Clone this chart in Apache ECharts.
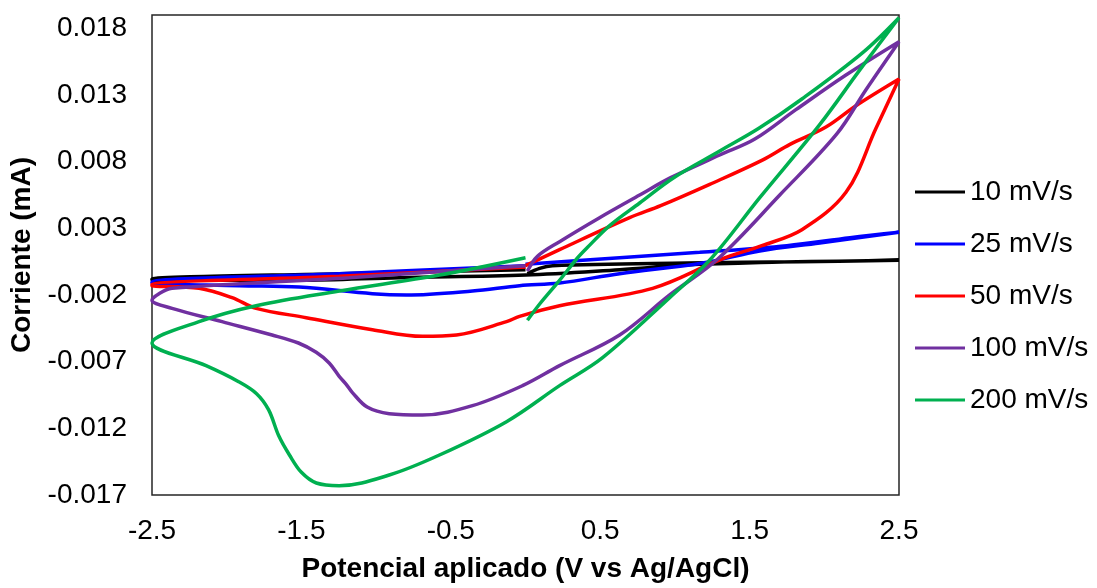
<!DOCTYPE html>
<html>
<head>
<meta charset="utf-8">
<script src="https://cdn.jsdelivr.net/npm/echarts@6/dist/echarts.min.js"></script>
<style>
  html, body { margin: 0; padding: 0; background: #fff; }
  #chart { width: 1097px; height: 588px; }
</style>
</head>
<body>
<div id="chart"></div>
<script>
// voltammogramas: potencial (V) y corriente (mA), en orden de barrido
var seriesNames = ['10 mV/s', '25 mV/s', '50 mV/s', '100 mV/s', '200 mV/s'];
var seriesColors = ['#000000', '#0000FF', '#FF0000', '#7030A0', '#00B050'];

var potential10 = [0.013, 0.094, 0.181, 1.079, 1.836, 2.5, 1.166, 0.63, 0.0, -0.845, -1.515, -2.5, -2.5, -1.247, 0.0];
var current10 = [-0.0004, 0.0, 0.0002, 0.0004, 0.0005, 0.0006, 0.0003, -0.0001, -0.0005, -0.0007, -0.0009, -0.0009, -0.0008, -0.0004, -0.0001];

var potential25 = [0.0, 0.63, 1.166, 1.749, 2.172, 2.5, 1.97, 1.568, 1.186, 0.63, 0.228, -0.04, -0.355, -0.798, -1.025, -1.515, -1.917, -2.5, -2.5, -1.247, 0.0];
var current25 = [0.0003, 0.0008, 0.0012, 0.0017, 0.0023, 0.0027, 0.0019, 0.0013, 0.0004, -0.0004, -0.0011, -0.0013, -0.0017, -0.002, -0.0019, -0.0014, -0.0013, -0.0011, -0.001, -0.0004, 0.0002];

var potential50 = [0.0, 0.228, 0.697, 0.905, 1.233, 1.582, 1.77, 2.011, 2.212, 2.5, 2.346, 2.145, 1.85, 1.582, 1.314, 0.851, 0.228, -0.04, -0.127, -0.462, -0.69, -1.025, -1.468, -1.803, -1.964, -2.185, -2.5, -2.5, -1.247, 0.0];
var current50 = [0.0002, 0.0014, 0.0038, 0.0047, 0.0063, 0.0081, 0.0093, 0.0106, 0.0122, 0.0142, 0.0105, 0.0057, 0.0029, 0.0017, 0.0007, -0.0015, -0.0028, -0.0036, -0.004, -0.005, -0.0051, -0.0046, -0.0037, -0.003, -0.0022, -0.0015, -0.0013, -0.0012, -0.0006, 0.0001];

var potential100 = [0.013, 0.08, 0.228, 0.496, 0.764, 0.972, 1.3, 1.535, 1.81, 2.145, 2.5, 2.279, 2.085, 1.702, 1.287, 0.965, 0.63, 0.228, -0.02, -0.355, -0.69, -0.912, -1.06, -1.16, -1.20, -1.247, -1.314, -1.401, -1.52, -1.696, -2.031, -2.366, -2.5, -2.453, -2.366, -1.18, 0.0];
var current100 = [-0.0002, 0.0009, 0.002, 0.0038, 0.0055, 0.0068, 0.0085, 0.0097, 0.0119, 0.0145, 0.017, 0.0134, 0.0101, 0.0055, 0.0007, -0.002, -0.005, -0.0073, -0.0088, -0.0103, -0.011, -0.0109, -0.0104, -0.0093, -0.0087, -0.0081, -0.0071, -0.0063, -0.0056, -0.005, -0.004, -0.003, -0.0024, -0.0019, -0.0015, -0.0007, 0.0002];

var potential200 = [0.013, 0.1, 0.228, 0.342, 0.409, 0.563, 0.764, 0.992, 1.3, 1.562, 1.85, 2.259, 2.5, 2.239, 1.964, 1.568, 1.24, 0.965, 0.516, 0.228, -0.127, -0.576, -0.912, -1.247, -1.40, -1.50, -1.58, -1.65, -1.72, -1.80, -1.92, -2.138, -2.5, -2.185, -1.803, -1.247, -0.576, 0.0];
var current200 = [-0.0039, -0.0026, -0.0009, 0.0007, 0.0015, 0.0032, 0.0049, 0.0068, 0.0088, 0.0105, 0.0127, 0.0162, 0.0188, 0.0149, 0.0107, 0.0053, 0.0007, -0.0022, -0.0067, -0.0088, -0.0115, -0.014, -0.0155, -0.0163, -0.0161, -0.0153, -0.014, -0.0126, -0.0106, -0.0094, -0.0085, -0.0073, -0.0056, -0.004, -0.0028, -0.0017, -0.0005, 0.0008];

var potentials = [potential10, potential25, potential50, potential100, potential200];
var currents = [current10, current25, current50, current100, current200];

function pairs(xs, ys) {
    var out = [];
    for (var i = 0; i < xs.length; i++) {
        out.push([xs[i], ys[i]]);
    }
    return out;
}

var font = 'Liberation Sans, Arial, sans-serif';
var chart = echarts.init(document.getElementById('chart'));

var series = [];
for (var k = 0; k < seriesNames.length; k++) {
    series.push({
        name: seriesNames[k],
        type: 'line',
        data: pairs(potentials[k], currents[k]),
        symbol: 'none',
        smooth: 0.35,
        lineStyle: { width: 3.5, color: seriesColors[k] },
        itemStyle: { color: seriesColors[k] },
        animation: false
    });
}

var option = {
    backgroundColor: '#ffffff',
    animation: false,
    grid: {
        left: 152, right: 198, top: 15, bottom: 91,
        show: true, borderColor: '#262626', borderWidth: 1.5, backgroundColor: 'transparent'
    },
    legend: {
        data: seriesNames,
        orient: 'vertical',
        left: 915,
        top: 178,
        itemWidth: 50,
        itemHeight: 3,
        itemGap: 24,
        icon: 'rect',
        padding: 0,
        textStyle: { fontFamily: font, fontSize: 28, color: '#000', padding: [0, 0, 0, 0] }
    },
    xAxis: {
        type: 'value',
        min: -2.5,
        max: 2.5,
        interval: 1,
        name: 'Potencial aplicado (V vs Ag/AgCl)',
        nameLocation: 'middle',
        nameGap: 60,
        nameTextStyle: { fontFamily: font, fontSize: 28, fontWeight: 'bold', color: '#000' },
        axisLine: { show: false, onZero: false },
        axisTick: { show: false },
        splitLine: { show: false },
        axisLabel: {
            margin: 22,
            fontFamily: font, fontSize: 28, color: '#000',
            formatter: function (v) { return v.toFixed(1); }
        }
    },
    yAxis: {
        type: 'value',
        min: -0.017,
        max: 0.019,
        interval: 0.005,
        name: 'Corriente (mA)',
        nameLocation: 'middle',
        nameGap: 111,
        nameTextStyle: { fontFamily: font, fontSize: 28, fontWeight: 'bold', color: '#000' },
        axisLine: { show: false, onZero: false },
        axisTick: { show: false },
        splitLine: { show: false },
        axisLabel: {
            margin: 25,
            showMaxLabel: false,
            fontFamily: font, fontSize: 28, color: '#000',
            formatter: function (v) { return v.toFixed(3); }
        }
    },
    series: series
};

chart.setOption(option);
</script>
</body>
</html>
